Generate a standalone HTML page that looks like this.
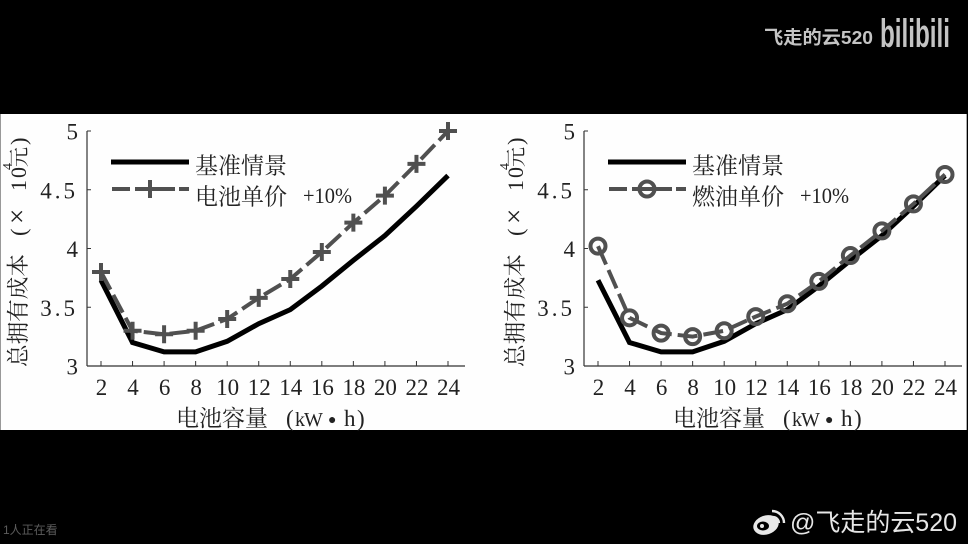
<!DOCTYPE html>
<html lang="zh">
<head>
<meta charset="utf-8">
<title>总拥有成本敏感性分析</title>
<style>
html,body{margin:0;padding:0;background:#000;}
#stage{position:relative;width:968px;height:544px;overflow:hidden;background:#000;}
svg{position:absolute;left:0;top:0;display:block;}
.cn{font-family:"Liberation Serif","Noto Serif CJK SC",serif;fill:#222;}
.num{font-family:"Liberation Serif","Noto Serif CJK SC",serif;fill:#222;font-size:23px;}
.ui{font-family:"Liberation Sans","Noto Sans CJK SC",sans-serif;}
</style>
</head>
<body>
<div id="stage">
<svg id="chart" width="968" height="544" viewBox="0 0 968 544" xmlns="http://www.w3.org/2000/svg">
  <rect x="1" y="114" width="966" height="316" fill="#fefefe"/>
  <rect x="0" y="114" width="1" height="316" fill="#999"/>
  <rect x="966" y="114" width="1" height="316" fill="#aaa"/>
  <g id="panels"></g>

  <text class="ui" x="764" y="44" font-size="18.5" font-weight="bold" fill="#c4c4c4" textLength="109" lengthAdjust="spacingAndGlyphs">飞走的云520</text>
  <text class="ui" x="880" y="47" font-size="40" font-weight="bold" fill="#c4c4c4" textLength="70" lengthAdjust="spacingAndGlyphs">bilibili</text>

  <g>
    <ellipse cx="766" cy="525" rx="13" ry="9.5" fill="#e8e8e8" transform="rotate(-18 766 525)"/>
    <ellipse cx="763" cy="526" rx="6" ry="4.5" fill="#000"/>
    <circle cx="762" cy="526" r="2" fill="#e8e8e8"/>
    <path d="M772 511 a12 12 0 0 1 12 12" fill="none" stroke="#e8e8e8" stroke-width="2.4"/>
    <path d="M773 517 a6 6 0 0 1 6 6" fill="none" stroke="#e8e8e8" stroke-width="2.2"/>
  </g>
  <text class="ui" x="790" y="531" font-size="25" fill="#e6e6e6" textLength="167" lengthAdjust="spacingAndGlyphs">@飞走的云520</text>
  <text class="ui" x="3" y="534" font-size="12" fill="#5c5c5c">1人正在看</text>
</svg>
</div>
<script>
var categories = [2, 4, 6, 8, 10, 12, 14, 16, 18, 20, 22, 24];
var yTickLabels = ["3", "3.5", "4", "4.5", "5"];
var baselineCost = [3.73, 3.20, 3.12, 3.12, 3.21, 3.36, 3.48, 3.68, 3.90, 4.11, 4.36, 4.62];
var batteryPriceCost = [3.80, 3.30, 3.27, 3.30, 3.40, 3.58, 3.74, 3.97, 4.22, 4.45, 4.72, 5.00];
var fuelPriceCost = [4.02, 3.41, 3.28, 3.25, 3.30, 3.42, 3.53, 3.72, 3.94, 4.15, 4.38, 4.63];

var NS = 'http://www.w3.org/2000/svg';
var panelsRoot = document.getElementById('panels');

function make(parent, tag, attrs, text) {
  var el = document.createElementNS(NS, tag);
  for (var k in attrs) { el.setAttribute(k, attrs[k]); }
  if (text !== undefined) { el.textContent = text; }
  parent.appendChild(el);
  return el;
}

function drawPanel(cfg) {
  var axisLeft = cfg.axisLeft, axisRight = cfg.axisLeft + 378;
  var xFirst = cfg.axisLeft + 14, xLast = cfg.axisLeft + 361;
  var yTop = 131, yBottom = 366;
  function xScale(v) { return xFirst + (v - categories[0]) / (categories[categories.length - 1] - categories[0]) * (xLast - xFirst); }
  function yScale(v) { return yBottom - (v - 3) / 2 * (yBottom - yTop); }

  var g = make(panelsRoot, 'g', {});
  
  

  var yAxis = make(g, 'line', {x1: axisLeft, x2: axisLeft, y1: yTop, y2: yBottom, stroke: '#333', 'stroke-width': 1.2});
  
  
  var xAxis = make(g, 'line', {x1: axisLeft, x2: axisRight, y1: yBottom, y2: yBottom, stroke: '#333', 'stroke-width': 1.2});
  
  

  yTickLabels.forEach(function (label) {
    var y = yScale(parseFloat(label));
    var tick = make(g, 'line', {x1: axisLeft, x2: axisLeft + 4, y1: y, y2: y, stroke: '#333', 'stroke-width': 1});
    
    
    var t = make(g, 'text', {'class': 'num', x: axisLeft - 9, y: y + 8.5, 'text-anchor': 'end', 'letter-spacing': label.length > 1 ? '3' : '0'}, label);
    
    
  });

  categories.forEach(function (c) {
    var x = xScale(c);
    var tick = make(g, 'line', {x1: x, x2: x, y1: yBottom, y2: yBottom - 5, stroke: '#333', 'stroke-width': 1});
    
    
    var t = make(g, 'text', {'class': 'num', x: x + 0.5, y: 395, 'text-anchor': 'middle'}, String(c));
    
    
  });

  var xTitle = make(g, 'text', {'class': 'cn', y: 426, 'font-size': 23});
  
  
  make(xTitle, 'tspan', {x: axisLeft + 89}, '电池容量');
  make(xTitle, 'tspan', {x: axisLeft + 199}, '(');
  make(xTitle, 'tspan', {x: axisLeft + 208, 'font-size': 20, 'letter-spacing': '-1'}, 'kW');
  make(xTitle, 'tspan', {x: axisLeft + 241, 'font-size': 14, dy: -2}, '●');
  make(xTitle, 'tspan', {x: axisLeft + 257, dy: 2}, 'h');
  make(xTitle, 'tspan', {x: axisLeft + 270}, ')');

  var yTitle = make(g, 'text', {'class': 'cn', transform: 'translate(' + (axisLeft - 61) + ',367) rotate(-90)', 'font-size': 22.6});
  
  
  make(yTitle, 'tspan', {x: 0}, '总拥有成本');
  make(yTitle, 'tspan', {x: 131}, '(');
  make(yTitle, 'tspan', {x: 143, 'font-size': 27}, '×');
  make(yTitle, 'tspan', {x: 176, 'letter-spacing': '2', 'font-size': 22}, '10');
  make(yTitle, 'tspan', {x: 197, dy: -14, 'font-size': 14}, '4');
  make(yTitle, 'tspan', {x: 200, dy: 14, 'font-size': 20}, '元');
  make(yTitle, 'tspan', {x: 222}, ')');

  function pts(values) {
    return values.map(function (v, i) { return xScale(categories[i]).toFixed(1) + ',' + yScale(v).toFixed(1); }).join(' ');
  }

  var baseLine = make(g, 'polyline', {points: pts(baselineCost), fill: 'none', stroke: '#000', 'stroke-width': 5, 'stroke-linejoin': 'miter'});
  
  

  var dashLine = make(g, 'polyline', {points: pts(cfg.values), fill: 'none', stroke: '#505050', 'stroke-width': 4, 'stroke-dasharray': '20 6'});
  
  

  function marker(parent, x, y) {
    if (cfg.marker === 'plus') {
      make(parent, 'path', {d: 'M' + (x - 9) + ' ' + y + 'H' + (x + 9) + 'M' + x + ' ' + (y - 9) + 'V' + (y + 9), stroke: '#505050', 'stroke-width': 4, fill: 'none'});
    } else {
      make(parent, 'circle', {cx: x, cy: y, r: 7.5, stroke: '#505050', 'stroke-width': 4, fill: 'none'});
    }
  }

  cfg.values.forEach(function (v, i) {
    var m = make(g, 'g', {});
    
    
    marker(m, xScale(categories[i]), yScale(v));
  });

  var legend = make(g, 'g', {});
  
  
  var lx = axisLeft + 24;
  var l1 = make(legend, 'line', {x1: lx, x2: lx + 78, y1: 162, y2: 162, stroke: '#000', 'stroke-width': 5});
  
  
  var t1 = make(legend, 'text', {'class': 'cn', x: lx + 84, y: 173.5, 'font-size': 23}, '基准情景');
  
  
  var l2 = make(legend, 'line', {x1: lx + 1, x2: lx + 78, y1: 189, y2: 189, stroke: '#505050', 'stroke-width': 4, 'stroke-dasharray': '18 5 40 4 11'});
  
  
  marker(legend, lx + 39, 189);
  var t2 = make(legend, 'text', {'class': 'cn', x: lx + 84, y: 204.5, 'font-size': 23}, cfg.legendLabel);
  
  
  var t3 = make(legend, 'text', {'class': 'cn', x: lx + 192, y: 203, 'font-size': 22, textLength: 49, lengthAdjust: 'spacingAndGlyphs'}, '+10%');
  
  
}

drawPanel({name: 'battery-price-chart', axisLeft: 87, values: batteryPriceCost, marker: 'plus', legendLabel: '电池单价'});
drawPanel({name: 'fuel-price-chart', axisLeft: 584, values: fuelPriceCost, marker: 'circle', legendLabel: '燃油单价'});
</script>
</body>
</html>
